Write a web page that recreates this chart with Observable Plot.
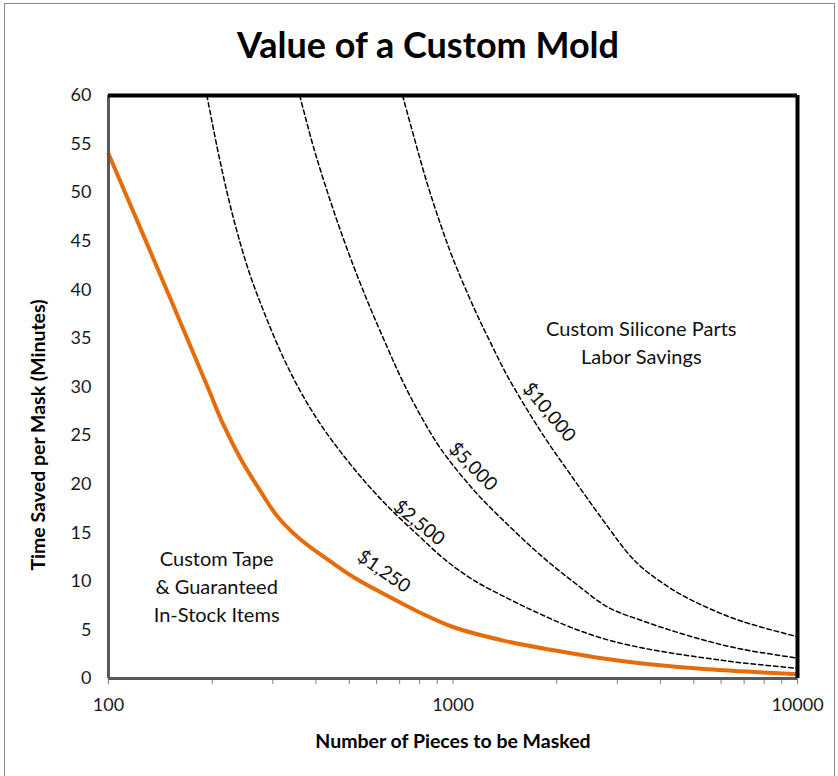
<!DOCTYPE html>
<html>
<head>
<meta charset="utf-8">
<script src="https://cdn.jsdelivr.net/npm/d3@7"></script>
<script src="https://cdn.jsdelivr.net/npm/@observablehq/plot@0.6"></script>
<style>
  html, body { margin: 0; padding: 0; background: #fff; }
  #wrap { position: relative; width: 838px; height: 776px; overflow: hidden; font-family: Lato, "Open Sans", sans-serif; }
  #border { position: absolute; left: 4px; top: 3px; width: 831px; height: 800px; border: 1px solid #8a8a8a; box-sizing: border-box; }
  #title { position: absolute; left: 0; top: 22px; width: 856px; text-align: center; font-weight: 700; font-size: 36px; color: #000; }
  #chart { position: absolute; left: 0; top: 0; }
</style>
</head>
<body>
<div id="wrap">
  <div id="border"></div>
  <div id="chart"></div>
  <div id="title">Value of a Custom Mold</div>
</div>
<script>
// Tape / guaranteed stock curve ($1,250)
const tapePieces  = [100, 150, 194, 215, 242, 277, 309, 361, 451, 516, 630, 790, 1000, 1400, 2000, 2800, 3540, 5500, 10000];
const tapeMinutes = [54.0, 39.4, 30.0, 26.2, 22.6, 19.2, 16.7, 14.3, 11.8, 10.4, 8.7, 6.9, 5.3, 3.9, 2.85, 2.0, 1.55, 0.95, 0.45];

// $2,500 curve
const c2500Pieces  = [193, 210, 230, 255, 285, 320, 360, 410, 470, 560, 660, 800, 950, 1150, 1450, 1800, 2260, 2830, 3540, 4430, 5550, 6940, 10000];
const c2500Minutes = [60, 53.5, 47.5, 42.0, 37.4, 33.2, 29.6, 26.3, 23.4, 20.1, 17.4, 14.6, 12.2, 10.1, 8.2, 6.6, 5.1, 3.95, 3.15, 2.55, 2.05, 1.6, 1.05];

// $5,000 curve
const c5000Pieces  = [359, 395, 442, 494, 565, 646, 714, 807, 923, 1155, 1445, 1808, 2263, 2830, 3540, 4431, 5548, 6939, 10000];
const c5000Minutes = [60, 54.5, 49.0, 44.1, 38.8, 34.0, 30.6, 27.0, 23.6, 19.3, 15.8, 12.6, 9.8, 7.3, 5.95, 4.8, 3.8, 3.0, 2.1];

// $10,000 curve
const c10000Pieces  = [714, 772, 844, 923, 1000, 1155, 1300, 1445, 1808, 2263, 2830, 3200, 3540, 4431, 5548, 6939, 10000];
const c10000Minutes = [60, 55.6, 50.8, 46.6, 43.2, 38.0, 34.2, 31.0, 25.3, 20.3, 15.5, 13.0, 11.4, 8.95, 7.2, 5.85, 4.3];

// Curve labels (value text, anchor pieces, anchor minutes)
const curveLabels  = ["$10,000", "$5,000", "$2,500", "$1,250"];
const curveLabelX  = [1901, 1143, 797, 630];
const curveLabelY  = [27.4, 21.8, 16.0, 11.0];
const curveLabelAngle = [50, 45, 39, 35];

// Region annotations
const regionText = ["Custom Silicone Parts\nLabor Savings", "Custom Tape\n& Guaranteed\nIn-Stock Items"];
const regionX = [3520, 206];
const regionY = [34.7, 9.6];

// Axes
const xTickValues = [100,200,300,400,500,600,700,800,900,1000,2000,3000,4000,5000,6000,7000,8000,9000,10000];
const xTickLabels = [100, 1000, 10000];
const yTickValues = [0,5,10,15,20,25,30,35,40,45,50,55,60];
const xTitle = "Number of Pieces to be Masked";
const yTitle = "Time Saved per Mask (Minutes)";

const zip = (xs, ys) => xs.map((x, i) => ({x, y: ys[i]}));
const tape = zip(tapePieces, tapeMinutes);
const dashed = [
  ...zip(c2500Pieces, c2500Minutes).map(d => ({...d, s: "2500"})),
  ...zip(c5000Pieces, c5000Minutes).map(d => ({...d, s: "5000"})),
  ...zip(c10000Pieces, c10000Minutes).map(d => ({...d, s: "10000"}))
];
const labels = curveLabels.map((t, i) => ({t, x: curveLabelX[i], y: curveLabelY[i], a: curveLabelAngle[i]}));
const regions = regionText.map((t, i) => ({t, x: regionX[i], y: regionY[i]}));

const chart = Plot.plot({
  width: 838,
  height: 776,
  marginLeft: 108,
  marginRight: 41,
  marginTop: 95,
  marginBottom: 98,
  style: {fontFamily: "Lato, 'Open Sans', sans-serif", background: "transparent"},
  x: {type: "log", domain: [100, 10000]},
  y: {domain: [0, 60]},
  marks: [
    Plot.axisX({ticks: xTickValues, tickFormat: d => xTickLabels.includes(d) ? String(d) : "", tickSize: 6, tickPadding: 14, fontSize: 18, stroke: "#7f7f7f", color: "#1a1a1a", label: null}),
    Plot.axisY({ticks: yTickValues, tickSize: 0, tickPadding: 17, fontSize: 18, color: "#1a1a1a", label: null}),
    Plot.line(dashed, {x: "x", y: "y", z: "s", stroke: "#000", strokeWidth: 1.5, strokeDasharray: "4.5,3", curve: "catmull-rom"}),
    Plot.line(tape, {x: "x", y: "y", stroke: "#E46C0A", strokeWidth: 4, curve: "catmull-rom"}),
    Plot.text(labels, {x: "x", y: "y", text: "t", rotate: "a", fontSize: 19, fill: "#111"}),
    Plot.text(regions, {x: "x", y: "y", text: "t", fontSize: 20, lineHeight: 1.4, fill: "#111"}),
    Plot.ruleX([100], {stroke: "#595959", strokeWidth: 3}),
    Plot.ruleY([0], {stroke: "#595959", strokeWidth: 3}),
    Plot.ruleY([60], {stroke: "#000", strokeWidth: 4}),
    Plot.ruleX([10000], {stroke: "#000", strokeWidth: 4}),
    Plot.text([xTitle], {frameAnchor: "bottom", lineAnchor: "middle", textAnchor: "middle", dy: 63, fontSize: 19.5, fontWeight: "bold", fill: "#000"}),
    Plot.text([yTitle], {frameAnchor: "left", lineAnchor: "middle", textAnchor: "middle", dx: -70, dy: 48, rotate: -90, fontSize: 19.5, fontWeight: "bold", fill: "#000"})
  ]
});
document.getElementById("chart").appendChild(chart);
</script>
</body>
</html>
